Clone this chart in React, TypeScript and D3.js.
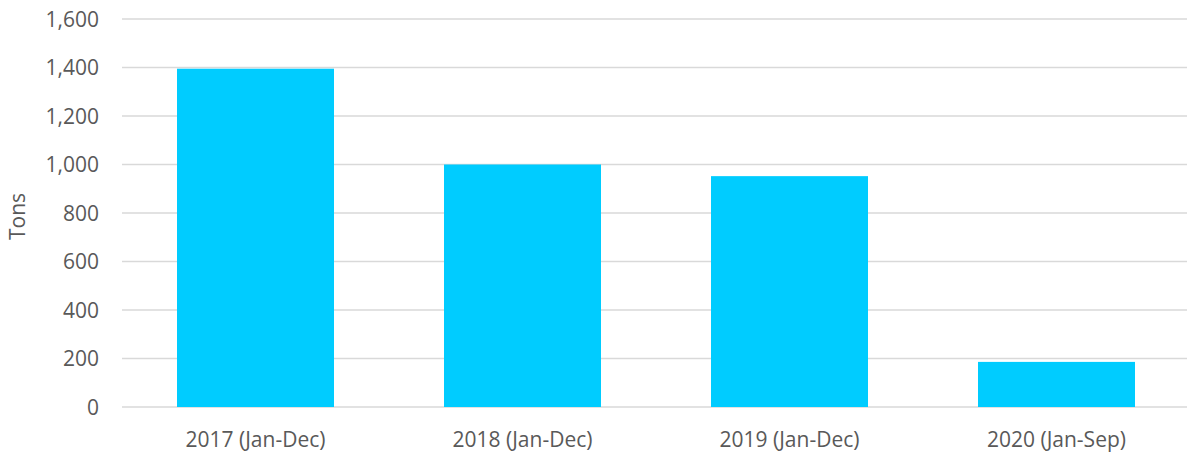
import React from 'react';
import * as d3 from 'd3';

const categories = ['2017 (Jan-Dec)', '2018 (Jan-Dec)', '2019 (Jan-Dec)', '2020 (Jan-Sep)'];
const tons = [1395, 1000, 952, 186];
const yTicks = [0, 200, 400, 600, 800, 1000, 1200, 1400, 1600];

const width = 1187;
const height = 456;
const margin = { top: 19, right: -3, bottom: 49, left: 122 };
const font = "'Open Sans', sans-serif";

const App = () => {
  const x = d3.scaleBand<string>()
    .domain(categories)
    .range([margin.left, width - margin.right])
    .paddingInner(0.412)
    .paddingOuter(0.206);

  const y = d3.scaleLinear()
    .domain([0, 1600])
    .range([height - margin.bottom, margin.top]);

  const fmt = d3.format(',');

  return (
    <svg width={width} height={height} style={{ position: 'absolute', left: 0, top: 0 }}>
      <rect width={width} height={height} fill="#fff" />
      {yTicks.map(t => (
        <g key={t}>
          <line x1={margin.left} x2={width} y1={y(t)} y2={y(t)} stroke="#d9d9d9" strokeWidth={1.5} />
          <text x={99} y={y(t)} dy="0.36em" textAnchor="end" fontFamily={font} fontSize={21} fill="#595959">
            {fmt(t)}
          </text>
        </g>
      ))}
      {categories.map((c, i) => (
        <rect key={c} x={x(c)} y={y(tons[i])} width={x.bandwidth()} height={y(0) - y(tons[i])} fill="#00ccff" />
      ))}
      {categories.map(c => (
        <text key={c} x={(x(c) ?? 0) + x.bandwidth() / 2} y={447} textAnchor="middle"
          fontFamily={font} fontSize={21} fill="#595959">
          {c}
        </text>
      ))}
      <text transform="translate(25,216.5) rotate(-90)" textAnchor="middle"
        fontFamily={font} fontSize={21} fill="#595959">
        Tons
      </text>
    </svg>
  );
};

export default App;
